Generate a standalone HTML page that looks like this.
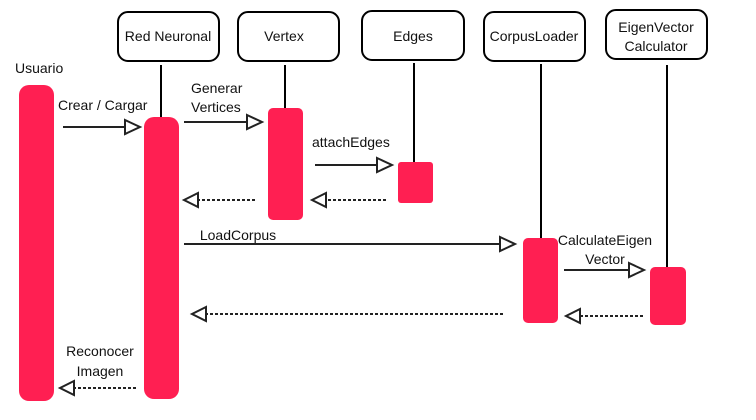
<!DOCTYPE html>
<html><head><meta charset="utf-8"><style>
html,body{margin:0;padding:0;background:#fff;}
svg{display:block;}
text{font-family:"Liberation Sans",sans-serif;font-size:14px;fill:#111;}
</style></head><body>
<svg width="756" height="420" viewBox="0 0 756 420" xmlns="http://www.w3.org/2000/svg">
<g fill="#fff" stroke="#000" stroke-width="2">
<rect x="118" y="12" width="101" height="49" rx="10"/>
<rect x="238" y="12" width="101" height="49" rx="10"/>
<rect x="362" y="11" width="102" height="49" rx="10"/>
<rect x="484" y="12" width="101" height="49" rx="10"/>
<rect x="606" y="10" width="101" height="49" rx="10"/>
</g>
<g text-anchor="middle">
<text x="168" y="41">Red Neuronal</text>
<text x="284" y="41">Vertex</text>
<text x="413" y="41">Edges</text>
<text x="534" y="41">CorpusLoader</text>
<text x="656" y="32">EigenVector</text>
<text x="656" y="51">Calculator</text>
</g>
<g stroke="#000" stroke-width="2">
<line x1="161" y1="65" x2="161" y2="118"/>
<line x1="285" y1="65" x2="285" y2="108"/>
<line x1="414" y1="63" x2="414" y2="162"/>
<line x1="541" y1="64" x2="541" y2="238"/>
<line x1="667" y1="65" x2="667" y2="267"/>
</g>
<g fill="#FF1F52">
<rect x="19" y="85" width="35" height="316" rx="10"/>
<rect x="144" y="117" width="35" height="282" rx="10"/>
<rect x="268" y="108" width="35" height="112" rx="5"/>
<rect x="398" y="162" width="35" height="41" rx="3"/>
<rect x="523" y="238" width="35" height="85" rx="5"/>
<rect x="650" y="267" width="36" height="58" rx="5"/>
</g>
<text x="15" y="73">Usuario</text>
<text x="58" y="110">Crear / Cargar</text>
<text x="191" y="93">Generar</text>
<text x="191" y="112">Vertices</text>
<text x="312" y="147">attachEdges</text>
<text x="238" y="240" text-anchor="middle">LoadCorpus</text>
<text x="605" y="245" text-anchor="middle">CalculateEigen</text>
<text x="605" y="264" text-anchor="middle">Vector</text>
<text x="100" y="356" text-anchor="middle">Reconocer</text>
<text x="100" y="376" text-anchor="middle">Imagen</text>
<g stroke="#222" stroke-width="2" fill="#fff">
<line x1="63" y1="127" x2="125" y2="127"/><polygon points="125,120 140,127 125,134"/>
<line x1="184" y1="122" x2="247" y2="122"/><polygon points="247,115 262,122 247,129"/>
<line x1="315" y1="165" x2="377" y2="165"/><polygon points="377,158 392,165 377,172"/>
<line x1="184" y1="244" x2="500" y2="244"/><polygon points="500,237 515,244 500,251"/>
<line x1="564" y1="270" x2="629" y2="270"/><polygon points="629,263 644,270 629,277"/>
</g>
<g stroke="#222" stroke-width="2" fill="#fff">
<line x1="255" y1="200" x2="198" y2="200" stroke-dasharray="3,2"/><polygon points="198,193 184,200 198,207"/>
<line x1="386" y1="200" x2="326" y2="200" stroke-dasharray="3,2"/><polygon points="326,193 312,200 326,207"/>
<line x1="503" y1="314" x2="206" y2="314" stroke-dasharray="3,2"/><polygon points="206,307 192,314 206,321"/>
<line x1="643" y1="316" x2="580" y2="316" stroke-dasharray="3,2"/><polygon points="580,309 566,316 580,323"/>
<line x1="136" y1="388" x2="74" y2="388" stroke-dasharray="3,2"/><polygon points="74,381 60,388 74,395"/>
</g>
</svg>
</body></html>
